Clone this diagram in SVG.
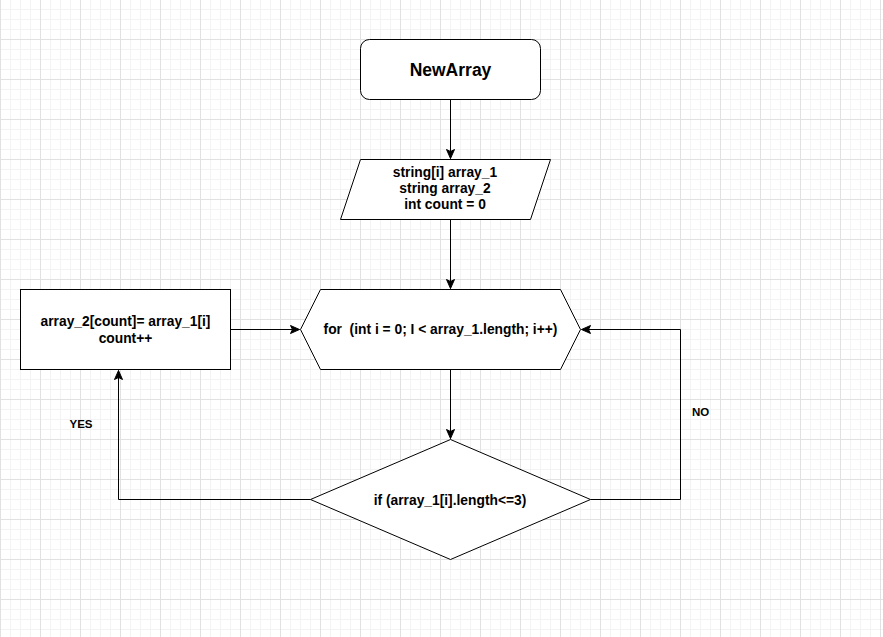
<svg xmlns="http://www.w3.org/2000/svg" width="883" height="637" viewBox="0 0 883 637">
<defs>
<pattern id="grid" patternUnits="userSpaceOnUse" x="0" y="0" width="40" height="40">
<rect width="40" height="40" fill="#ffffff"/>
<g stroke="#f3f3f3" stroke-width="1">
<line x1="10.5" y1="0" x2="10.5" y2="40"/><line x1="20.5" y1="0" x2="20.5" y2="40"/><line x1="30.5" y1="0" x2="30.5" y2="40"/>
<line x1="0" y1="9.5" x2="40" y2="9.5"/><line x1="0" y1="19.5" x2="40" y2="19.5"/><line x1="0" y1="29.5" x2="40" y2="29.5"/>
</g>
<g stroke="#e1e1e1" stroke-width="1">
<line x1="0.5" y1="0" x2="0.5" y2="40"/>
<line x1="0" y1="39.5" x2="40" y2="39.5"/>
</g>
</pattern>
<marker id="arr" markerUnits="userSpaceOnUse" viewBox="-10 -5 11 10" refX="0" refY="0" markerWidth="11" markerHeight="10" orient="auto">
<path d="M -9 -4 L 0 0 L -9 4 L -7 0 Z" fill="#000" stroke="#000" stroke-width="1" stroke-linejoin="miter"/>
</marker>
<style>
.shape{fill:#ffffff;stroke:#000;stroke-width:1}
.t{font-family:"Liberation Sans",Arial,sans-serif;font-weight:bold;font-size:13.8px;fill:#000;text-anchor:middle}
.title{font-size:17.5px}
.lbl{font-size:11.5px}
.edge{fill:none;stroke:#000;stroke-width:1;marker-end:url(#arr)}
</style>
</defs>
<rect x="0" y="0" width="883" height="637" fill="url(#grid)"/>
<g id="connectors">
<path class="edge" d="M450.5 99.5 L450.5 158.5"/>
<path class="edge" d="M450.5 219.5 L450.5 288.5"/>
<path class="edge" d="M450.5 369.5 L450.5 438.5"/>
<path class="edge" d="M230.5 329.5 L299.5 329.5"/>
<path class="edge" d="M310.5 499.5 L118.5 499.5 L118.5 370.5"/>
<path class="edge" d="M590.5 499.5 L680.5 499.5 L680.5 329.5 L581.5 329.5"/>
<text class="t lbl" x="81" y="427.5">YES</text>
<text class="t lbl" x="700.5" y="415.5">NO</text>
</g>
<g id="start">
<rect class="shape" x="360.5" y="39.5" width="180" height="60" rx="9" ry="9"/>
<text class="t title" x="450.5" y="75.5">NewArray</text>
</g>
<g id="input">
<polygon class="shape" points="360.5,159.5 550.5,159.5 530.5,219.5 340.5,219.5"/>
<text class="t" x="445" y="177">string[i] array_1</text>
<text class="t" x="445" y="193">string array_2</text>
<text class="t" x="445" y="209.3">int count = 0</text>
</g>
<g id="loop">
<polygon class="shape" points="300.5,329.5 320.5,289.5 560.5,289.5 580.5,329.5 560.5,369.5 320.5,369.5"/>
<text class="t" x="440.5" y="334" xml:space="preserve">for  (int i = 0; I &lt; array_1.length; i++)</text>
</g>
<g id="condition">
<polygon class="shape" points="450.5,439.5 590.5,499.5 450.5,559.5 310.5,499.5"/>
<text class="t" x="450" y="504.5">if (array_1[i].length&lt;=3)</text>
</g>
<g id="assign">
<rect class="shape" x="20.5" y="289.5" width="210" height="80"/>
<text class="t" x="125.5" y="326">array_2[count]= array_1[i]</text>
<text class="t" x="125.5" y="342.5">count++</text>
</g>
</svg>
